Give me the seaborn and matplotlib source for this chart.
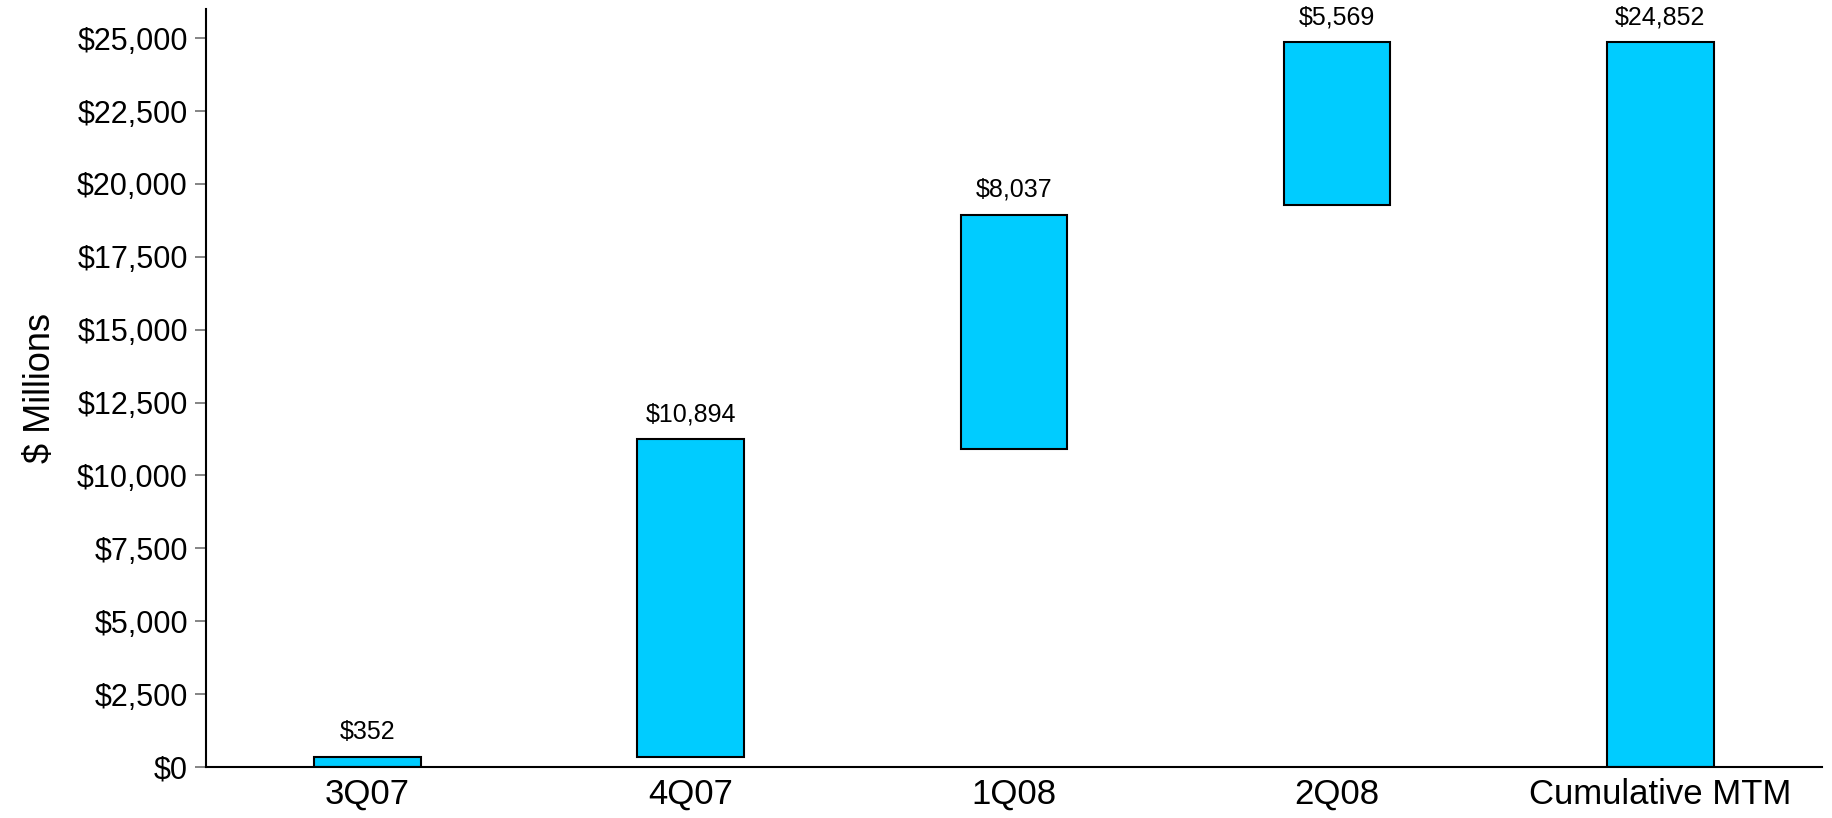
import matplotlib
matplotlib.use("Agg")
import matplotlib.pyplot as plt
import seaborn as sns
import pandas as pd
from matplotlib.ticker import FuncFormatter

categories = ["3Q07", "4Q07", "1Q08", "2Q08", "Cumulative MTM"]
values = [352, 10894, 8037, 5569, 24852]
bottoms = [0, 352, 10900, 19283, 0]
labels = ["$352", "$10,894", "$8,037", "$5,569", "$24,852"]
yticks = [0, 2500, 5000, 7500, 10000, 12500, 15000, 17500, 20000, 22500, 25000]

sns.set_theme(style="white")
plt.rcParams['font.family'] = ['Liberation Sans', 'DejaVu Sans']
plt.rcParams['text.color'] = 'black'
plt.rcParams['axes.labelcolor'] = 'black'
plt.rcParams['xtick.color'] = 'black'
plt.rcParams['ytick.color'] = 'black'

df = pd.DataFrame({"category": categories, "value": values})

fig = plt.figure(figsize=(18.32, 8.18), dpi=100)
ax = fig.add_axes([0.1124, 0.0623, 0.8821, 0.9267])

sns.barplot(data=df, x="category", y="value", ax=ax, color="#00CCFF",
            saturation=1, width=0.33, edgecolor="black", linewidth=1.5)

# float the bars (waterfall)
for patch, b, v in zip(ax.patches, bottoms, values):
    patch.set_y(b)
    patch.set_height(v)

for i, (b, v, lab) in enumerate(zip(bottoms, values, labels)):
    ax.annotate(lab, (i, b + v), xytext=(0, 18), textcoords="offset points",
                ha="center", va="center", fontsize=18, color="black")

ax.set_xlim(-0.5, 4.5)
ax.set_ylim(0, 26000)
ax.set_yticks(yticks)
ax.yaxis.set_major_formatter(FuncFormatter(lambda v, p: f"${v:,.0f}"))
ax.set_xlabel("")
ax.set_ylabel("$ Millions", fontsize=26, labelpad=14, color="black")
ax.tick_params(axis="y", left=True, length=8, width=1.2, color="#707070",
               labelcolor="black", labelsize=22, pad=5)
ax.tick_params(axis="x", bottom=False, length=0, labelcolor="black",
               labelsize=25, pad=8)

sns.despine(ax=ax, top=True, right=True)
for s in ["left", "bottom"]:
    ax.spines[s].set_color("black")
    ax.spines[s].set_linewidth(1.5)

fig.savefig("out.png", dpi=100)
